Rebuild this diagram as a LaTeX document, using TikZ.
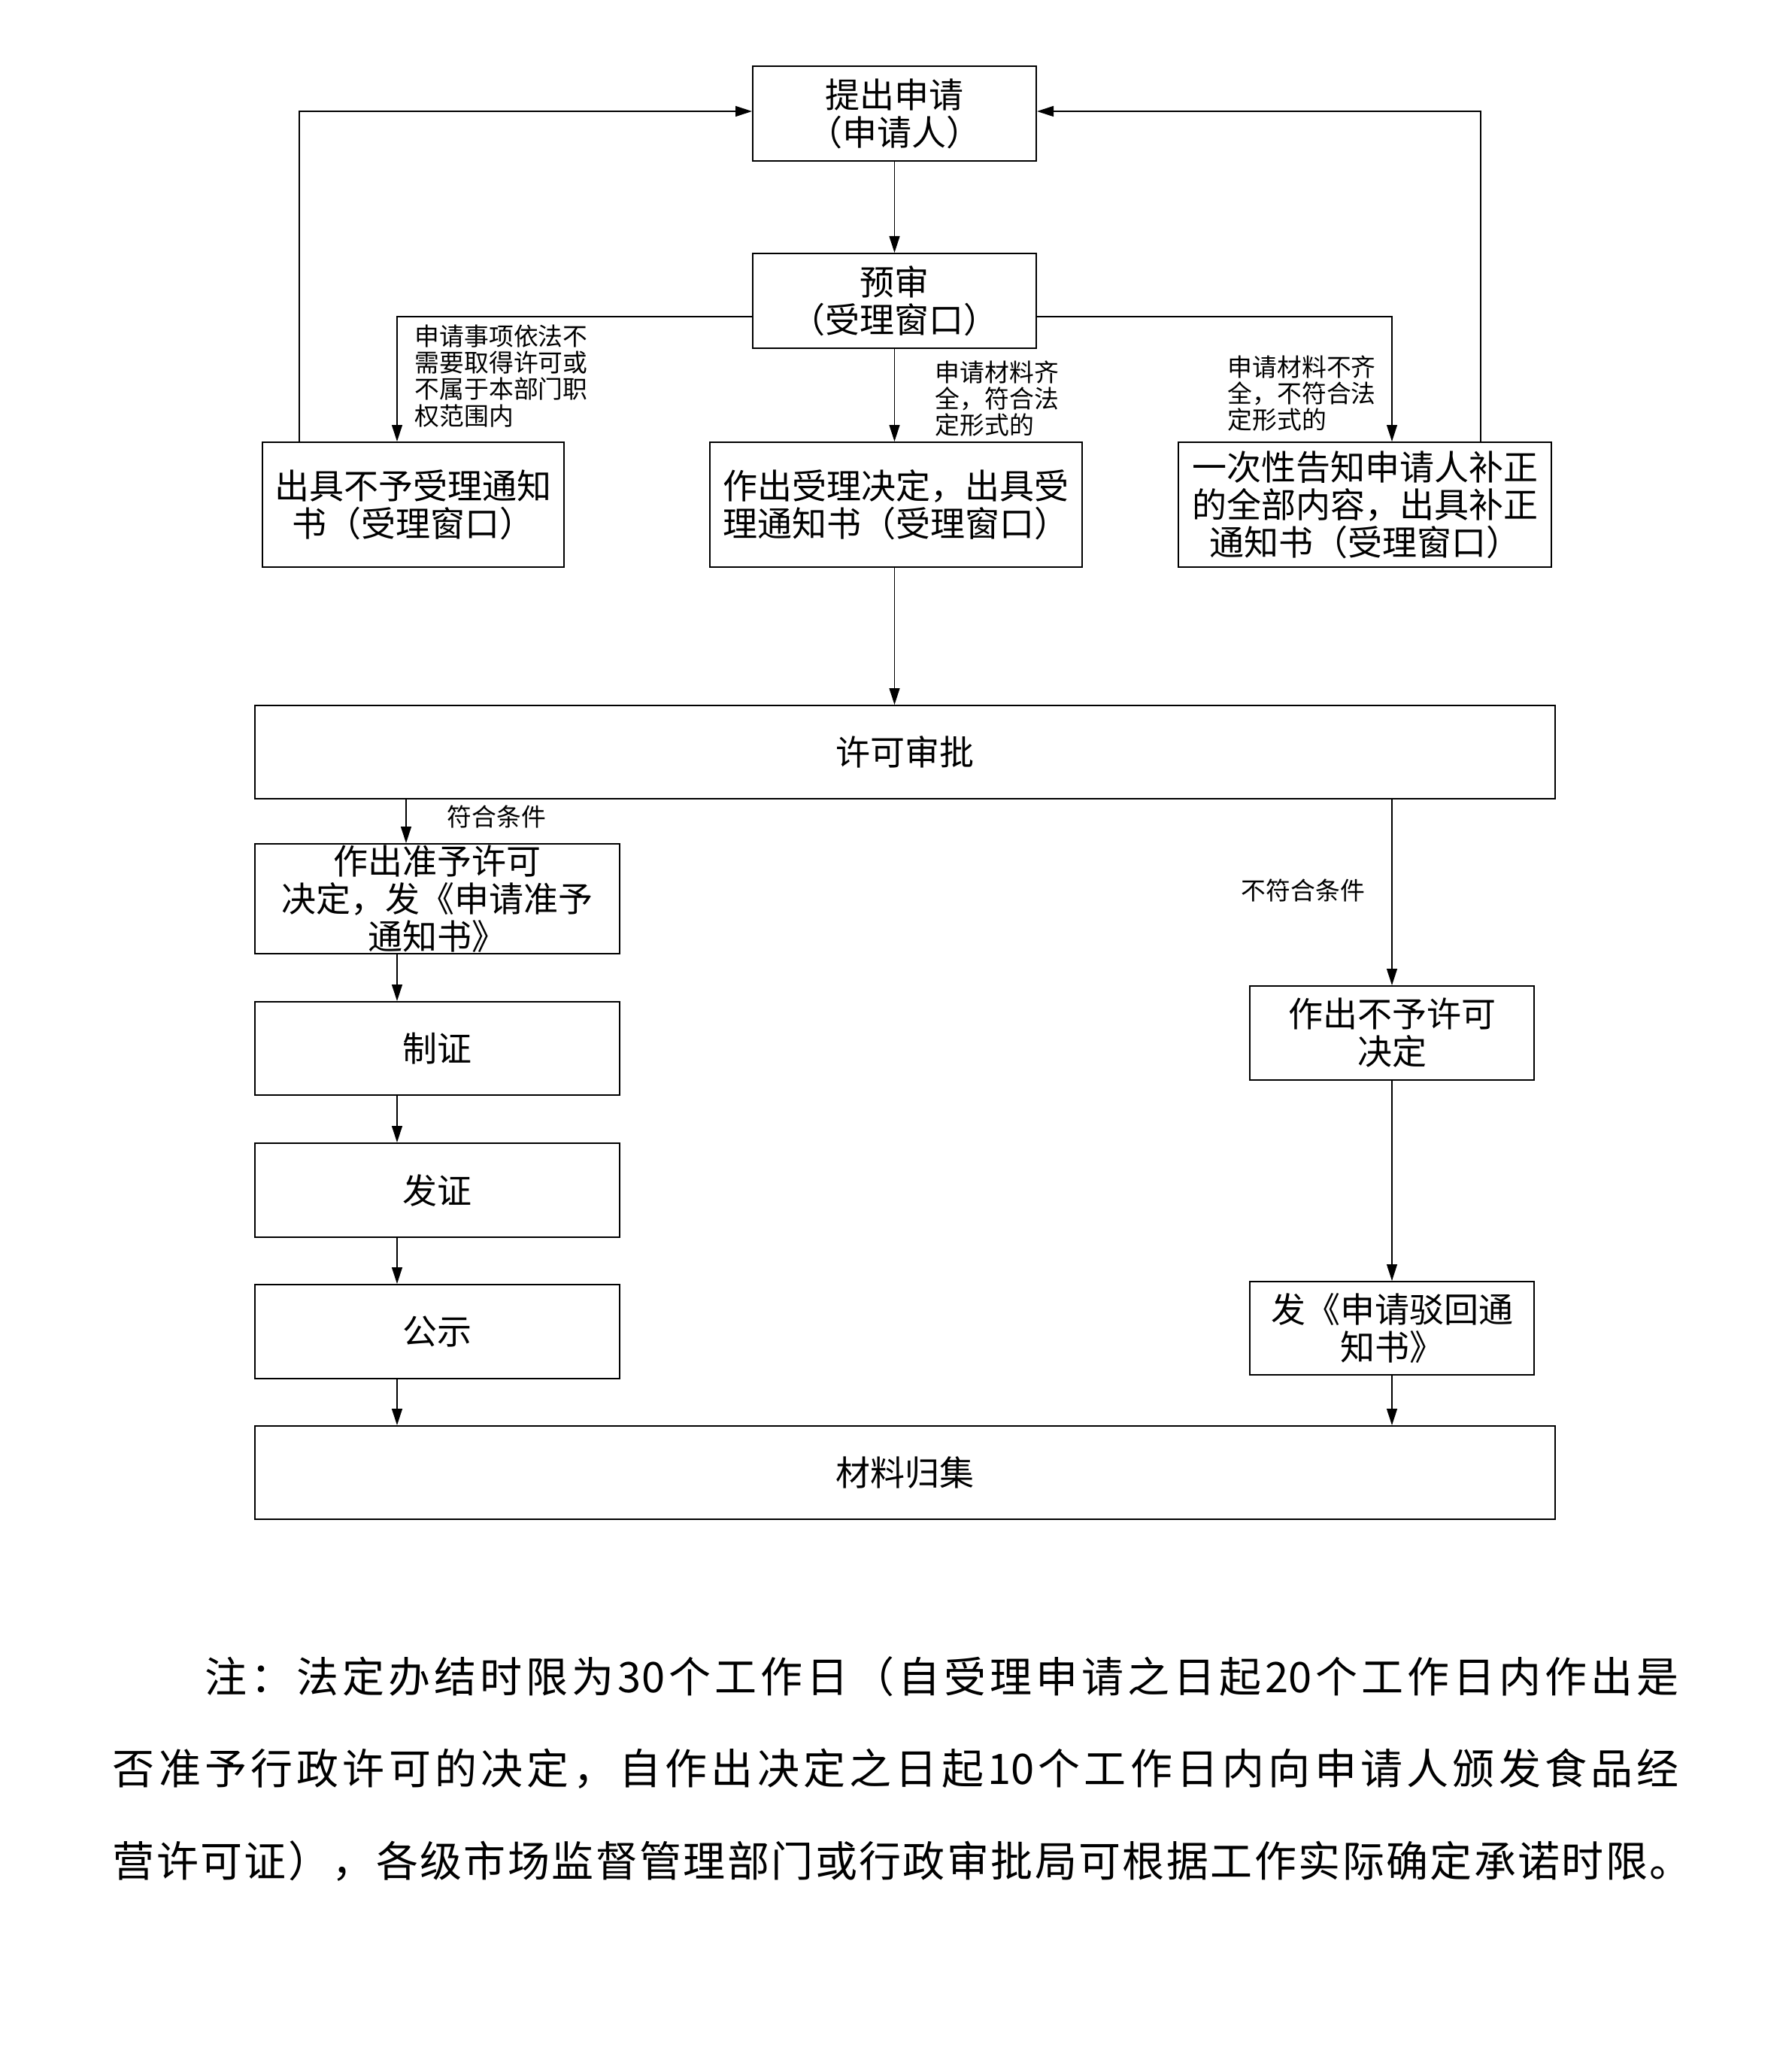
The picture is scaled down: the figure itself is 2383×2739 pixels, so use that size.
\documentclass[tikz,border=0pt]{standalone}
\usepackage{fontspec}
\setmainfont{Noto Sans CJK SC}
\usetikzlibrary{arrows.meta}
\def\spreadfirst#1{#1\spreadrest}
\def\spreadrest#1{\ifx\relax#1\else\hfil#1\expandafter\spreadrest\fi}
\newcommand\spreadline[2]{\hbox to #1{\spreadfirst#2\relax}}
\begin{document}
\begin{tikzpicture}[x=0.25pt,y=-0.25pt,
  box/.style 2 args={draw, line width=0.5pt, minimum width=#1*0.25pt, minimum height=#2*0.25pt,
    inner sep=0pt, align=center, font=\fontsize{11.5}{12.5}\selectfont},
  conn/.style={line width=0.3pt, -{Triangle[length=5.5pt,width=3.5pt]}},
  lbl/.style={inner sep=0pt, anchor=west, align=left, font=\fontsize{8.2}{8.8}\selectfont},
  note/.style={inner sep=0pt, anchor=west, font=\fontsize{14}{16}\selectfont}]
\useasboundingbox (0,0) rectangle (2383,2739);

\node[box={377}{126}] (A) at (1189.5,151) {提出申请\\（申请人）};
\node[box={377}{126}] (B) at (1189.5,400) {预审\\（受理窗口）};
\node[box={401}{166}] (C) at (549.5,671) {出具不予受理通知\\书（受理窗口）};
\node[box={495}{166}] (D) at (1191.5,671) {作出受理决定，出具受\\理通知书（受理窗口）};
\node[box={496}{166}] (E) at (1815,671) {一次性告知申请人补正\\的全部内容，出具补正\\通知书（受理窗口）};
\node[box={1729}{124}] (F) at (1203.5,1000) {许可审批};
\node[box={485}{146}] (G) at (581.5,1195) {作出准予许可\\决定，发《申请准予\\通知书》};
\node[box={485}{124}] (H) at (581.5,1394) {制证};
\node[box={485}{125}] (I) at (581.5,1582.5) {发证};
\node[box={485}{125}] (J) at (581.5,1770.5) {公示};
\node[box={1729}{124}] (K) at (1203.5,1958) {材料归集};
\node[box={378}{125}] (L) at (1851,1373.5) {作出不予许可\\决定};
\node[box={378}{124}] (M) at (1851,1766) {发《申请驳回通\\知书》};

\coordinate (bl) at (528,421);
\coordinate (br) at (1851,421);
\coordinate (fbL) at (398,148);
\coordinate (fbR) at (1969,148);
\coordinate (colF) at (540,1000);
\coordinate (colL) at (528,1000);
\coordinate (colR) at (1851,1000);

\draw[conn] (A.south) -- (A.south |- B.north);
\draw[conn] (B.west |- bl) -- (bl) -- (C.north -| bl);
\draw[conn] (B.east |- br) -- (br) -- (E.north -| br);
\draw[conn] (B.south) -- (B.south |- D.north);
\draw[conn] (C.north -| fbL) -- (fbL) -- (A.west |- fbL);
\draw[conn] (E.north -| fbR) -- (fbR) -- (A.east |- fbR);
\draw[conn] (D.south -| B.south) -- (F.north -| B.south);
\draw[conn] (F.south -| colF) -- (G.north -| colF);
\draw[conn] (G.south -| colL) -- (H.north -| colL);
\draw[conn] (H.south -| colL) -- (I.north -| colL);
\draw[conn] (I.south -| colL) -- (J.north -| colL);
\draw[conn] (J.south -| colL) -- (K.north -| colL);
\draw[conn] (F.south -| colR) -- (L.north -| colR);
\draw[conn] (L.south -| colR) -- (M.north -| colR);
\draw[conn] (M.south -| colR) -- (K.north -| colR);

\node[lbl] (l1) at (551,500) {申请事项依法不\\需要取得许可或\\不属于本部门职\\权范围内};
\node[lbl] (l2) at (1243,530) {申请材料齐\\全，符合法\\定形式的};
\node[lbl] (l3) at (1632,523) {申请材料不齐\\全，不符合法\\定形式的};
\node[lbl] (l4) at (594,1086) {符合条件};
\node[lbl] (l5) at (1650,1184) {不符合条件};

\node[note] (n1) at (272,2229) {\spreadline{490pt}{注：法定办结时限为{30}个工作日（自受理申请之日起{20}个工作日内作出是}};
\node[note] (n2) at (149,2352) {\spreadline{520.75pt}{否准予行政许可的决定，自作出决定之日起{10}个工作日内向申请人颁发食品经}};
\node[note] (n3) at (149,2474) {\spreadline{525pt}{营许可证），各级市场监督管理部门或行政审批局可根据工作实际确定承诺时限。}};
\end{tikzpicture}
\end{document}
